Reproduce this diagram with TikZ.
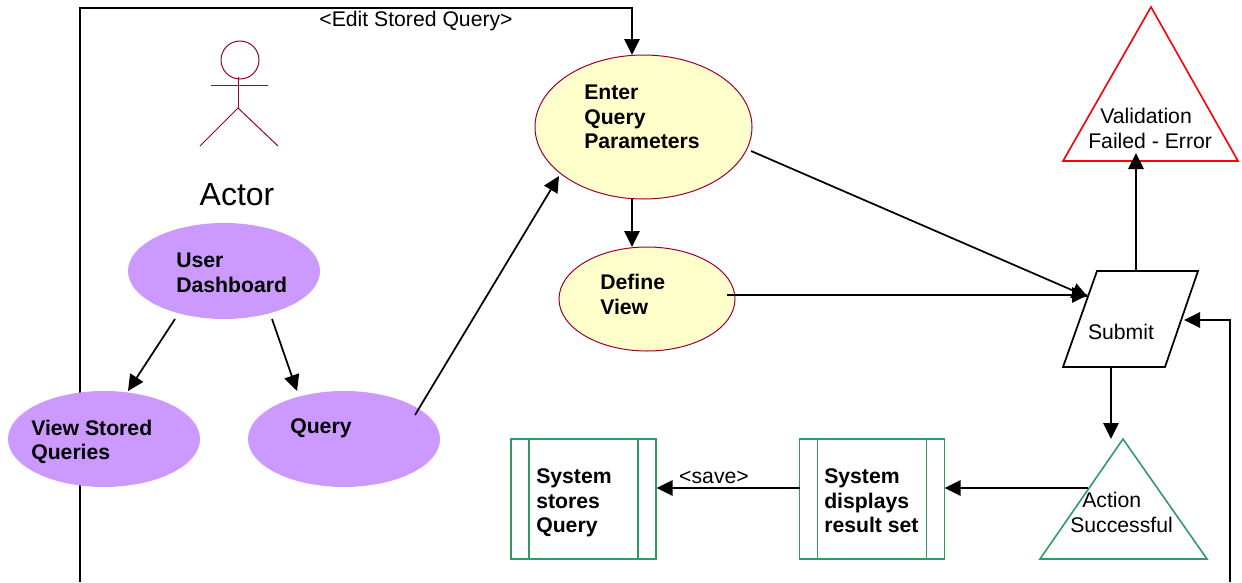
\documentclass[tikz,border=0pt]{standalone}
\usepackage{fontspec}
\setmainfont{Liberation Sans}
\usetikzlibrary{arrows.meta,backgrounds,shapes.geometric}
\definecolor{purp}{HTML}{CC99FF}
\definecolor{yel}{HTML}{FFFFCC}
\definecolor{maroon}{HTML}{990033}
\definecolor{grn}{HTML}{339966}
\newcommand{\pxu}{0.75pt}
\tikzset{
  conn/.style={draw=black,line width=1.3pt,-{Triangle[length=12pt,width=11.5pt]}},
  pell/.style={ellipse,fill=purp,inner sep=0pt,outer sep=0pt,minimum width=192*\pxu,minimum height=96*\pxu},
  yell/.style={ellipse,fill=yel,draw=maroon,line width=0.75pt,inner sep=0pt,outer sep=0pt},
  procbox/.style={rectangle,draw=grn,line width=1.2pt,inner sep=0pt,outer sep=0pt,minimum width=145*\pxu,minimum height=120*\pxu},
  boldlabel/.style={font=\fontsize{15.9}{18.4}\selectfont\bfseries,align=left,anchor=west,inner sep=0pt},
  reglabel/.style={font=\fontsize{15.9}{18.4}\selectfont,align=center,inner sep=0pt},
  actorline/.style={draw=maroon,line width=0.75pt},
}
\begin{document}
\begin{tikzpicture}[x=0.75pt,y=-0.75pt]
\useasboundingbox (0,0) rectangle (1242,582);
% ellipses
\node[pell] (dash) at (224,271) {};
\node[pell] (stored) at (104,439) {};
\node[pell] (query) at (344,439) {};
\node[yell,minimum width=217*\pxu,minimum height=144*\pxu] (enter) at (643.5,127) {};
\node[yell,minimum width=176*\pxu,minimum height=104*\pxu] (define) at (647,299) {};
% process boxes
\node[procbox] (stores) at (583.5,499) {};
\node[procbox] (displays) at (872,499) {};
\draw[draw=grn,line width=1.2pt] ([xshift=18*\pxu]stores.north west) -- ([xshift=18*\pxu]stores.south west);
\draw[draw=grn,line width=1.2pt] ([xshift=-18*\pxu]stores.north east) -- ([xshift=-18*\pxu]stores.south east);
\draw[draw=grn,line width=1.2pt] ([xshift=18*\pxu]displays.north west) -- ([xshift=18*\pxu]displays.south west);
\draw[draw=grn,line width=1.2pt] ([xshift=-18*\pxu]displays.north east) -- ([xshift=-18*\pxu]displays.south east);
% triangles and parallelogram
\coordinate (failtop) at (1151,7);
\coordinate (failleft) at (1063,161);
\coordinate (failright) at (1238,161);
\draw[draw=red,line width=1.2pt,line join=miter] (failtop) -- (failright) -- (failleft) -- cycle;
\coordinate (oktop) at (1123,439);
\coordinate (okleft) at (1040,559);
\coordinate (okright) at (1207,559);
\draw[draw=grn,line width=1.2pt] (oktop) -- (okright) -- (okleft) -- cycle;
\coordinate (subtl) at (1097,271);
\coordinate (subtr) at (1198,271);
\coordinate (subbr) at (1165,367);
\coordinate (subbl) at (1063,367);
\draw[draw=black,line width=1.3pt] (subtl) -- (subtr) -- (subbr) -- (subbl) -- cycle;
% actor
\node[circle,draw=maroon,line width=0.75pt,minimum size=38*\pxu,inner sep=0pt,outer sep=0pt] (head) at (240,60) {};
\coordinate (hip) at (238,108);
\draw[actorline] (238,77) -- (hip);
\draw[actorline] (211,85) -- (268,85);
\draw[actorline] (200,146) -- (hip) -- (278,146);
% labels
\node[font=\fontsize{24}{28}\selectfont,inner sep=0pt] (actorlab) at (237,195) {Actor};
\node[boldlabel] (dashlab) at (176,273) {User\\Dashboard};
\node[boldlabel] (storedlab) at (31,442) {View Stored\\Queries};
\node[boldlabel] (querylab) at (290,428) {Query};
\node[boldlabel] (enterlab) at (584,117) {Enter\\Query\\Parameters};
\node[boldlabel] (definelab) at (600,294.5) {Define\\View};
\node[boldlabel] (storeslab) at (536,503) {System\\stores\\Query};
\node[boldlabel] (displayslab) at (824,501) {System\\displays\\result set};
\node[reglabel,align=left,anchor=west] (faillab) at (1088,128.5) {\hspace*{9pt}Validation\\Failed - Error};
\node[reglabel] (sublab) at (1121,332) {Submit};
\node[reglabel,align=left,anchor=west] (oklab) at (1070,512.5) {\hspace*{9pt}Action\\Successful};
\node[reglabel] (editlab) at (416,21.5) {<Edit Stored Query>};
\node[reglabel] (savelab) at (714,477.5) {<save>};
% connectors
\begin{scope}[on background layer]
\draw[conn] ([shift={(-24,143)}]stored.center) -- ([shift={(-24,-431)}]stored.center) -| ([shift={(-11.5,-72)}]enter.center);
\end{scope}
\draw[conn] ([shift={(-49,48)}]dash.center) -- ([shift={(24,-48)}]stored.center);
\draw[conn] ([shift={(48,48)}]dash.center) -- ([shift={(-47,-48)}]query.center);
\draw[conn] ([shift={(71,-24)}]query.center) -- ([shift={(-84.5,49)}]enter.center);
\draw[conn] ([shift={(-11.5,72)}]enter.center) -- ([shift={(-15,-52)}]define.center);
\draw[conn] ([shift={(107.5,24)}]enter.center) -- ([shift={(-9,26)}]subtl);
\draw[conn] ([shift={(80,-4)}]define.center) -- ([shift={(-9,24)}]subtl);
\draw[conn] ([shift={(39,0)}]subtl) -- ([shift={(-15,-8)}]failtop |- failleft);
\draw[conn] ([shift={(48,0)}]subbl) -- ([shift={(-12,0)}]oktop);
\draw[conn] ([shift={(48,-71)}]okleft) -- ([shift={(72.5,-11)}]displays.center);
\draw[conn] ([shift={(-72,-11)}]displays.center) -- ([shift={(73,-11)}]stores.center);
\draw[conn] ([shift={(23,23)}]okright) |- ([shift={(-14,49)}]subtr);
\end{tikzpicture}
\end{document}
